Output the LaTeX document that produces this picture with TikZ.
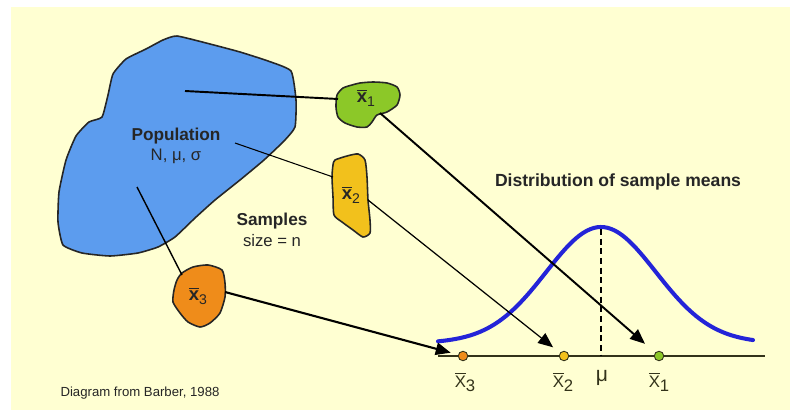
\documentclass[tikz,border=0pt]{standalone}
\usepackage{fontspec}
\setmainfont{Liberation Sans}
\usetikzlibrary{arrows.meta}
\definecolor{paper}{HTML}{FFFFD2}
\definecolor{popblue}{HTML}{5C9CEE}
\definecolor{smpgreen}{HTML}{8CC828}
\definecolor{smpyellow}{HTML}{F2C11C}
\definecolor{smporange}{HTML}{EF8C1A}
\definecolor{curveblue}{HTML}{2424D8}
\definecolor{inkgray}{HTML}{262626}
\definecolor{axisgray}{HTML}{33331A}
\newcommand{\mbar}[2]{\ensuremath{\overline{\mbox{#1}}}\raisebox{-.45ex}{#2}}

\begin{document}
\begin{tikzpicture}[
  x=0.02cm, y=-0.02cm,
  >={Triangle[length=8.5pt,width=7pt]},
  blob/.style={draw=inkgray, line width=0.9pt},
  link/.style={draw=black},
  flow/.style={->, draw=black},
  dot/.style={circle, draw=axisgray, line width=0.5pt, inner sep=0pt, minimum size=5.4pt},
  head/.style={font=\fontsize{9.8}{11}\selectfont\bfseries, text=inkgray},
  note/.style={font=\fontsize{9.5}{11}\selectfont, text=inkgray, inner sep=1pt},
  smplab/.style={font=\fontsize{10.5}{12}\selectfont\bfseries, text=inkgray},
  axlab/.style={font=\fontsize{9.5}{11}\selectfont, text=axisgray}
]
  \useasboundingbox (0,0) rectangle (790,412);
  \fill[white] (0,0) rectangle (790,412);
  \fill[paper] (11,7) rectangle (790,410);

  \draw[blob, fill=popblue] plot[smooth cycle, tension=0.3] coordinates {
    (177,36) (210,44) (240,52) (268,61) (291,71) (296,100) (295,127) (284,141)
    (264,160) (240,180) (215,200) (195,218) (175,237) (158,247) (138,253) (110,256)
    (82,253) (63,245) (58,222) (59,192) (66,160) (76,136) (89,122) (102,117)
    (108,95) (113,74) (126,59) (146,49) (163,40)};
  \draw[blob, fill=smpgreen] plot[smooth cycle, tension=0.4] coordinates {
    (337,95) (343,88) (352,85) (360,83) (373,82) (387,83) (397,87) (400,95)
    (397,105) (387,112) (377,115) (372,122) (367,127) (357,127) (345,123) (338,117) (336,107)};
  \draw[blob, fill=smpyellow] plot[smooth cycle, tension=0.4] coordinates {
    (335,160) (347,156) (358,154) (365,160) (367,177) (368,200) (370,220) (370,233)
    (363,237) (353,230) (342,222) (334,215) (333,197) (332,177) (333,165)};
  \draw[blob, fill=smporange] plot[smooth cycle, tension=0.4] coordinates {
    (182,273) (193,267) (208,265) (222,270) (225,283) (225,297) (220,313) (210,323)
    (200,327) (188,322) (180,313) (173,302) (174,290) (177,280)};

  \node[head] (pop) at (176,136) {Population};
  \node[note] (popparams) at (176,156) {N, μ, σ};
  \node[head] (smp) at (272,221) {Samples};
  \node[note] (smpsize) at (272,241) {size = n};
  \node[head, font=\fontsize{10}{12}\selectfont\bfseries] (dist) at (618,182) {Distribution of sample means};
  \node[font=\fontsize{7.5}{9}\selectfont, text=inkgray] (src) at (140,393) {Diagram from Barber, 1988};

  \node[smplab] (x1lbl) at (366,98) {\mbar{x}{\fontsize{8}{8}\selectfont\mdseries 1}};
  \node[smplab] (x2lbl) at (351,195) {\mbar{x}{\fontsize{8}{8}\selectfont\mdseries 2}};
  \node[smplab] (x3lbl) at (198,296) {\mbar{x}{\fontsize{8}{8}\selectfont\mdseries 3}};

  \coordinate (pop1) at (185,91);
  \coordinate (pop2) at (235,143);
  \coordinate (pop3) at (137,187);
  \coordinate (s1in) at (338,99);
  \coordinate (s2in) at (333,177);
  \coordinate (s3in) at (182,275);
  \coordinate (s1out) at (380,113);
  \coordinate (s2out) at (368,200);
  \coordinate (s3out) at (225,292);
  \draw[link, line width=1.1pt] (pop1) -- (s1in);
  \draw[link, line width=0.6pt] (pop2) -- (s2in);
  \draw[link, line width=0.8pt] (pop3) -- (s3in);

  \draw[curveblue, line width=2.3pt, line cap=round]
    plot[domain=438:753, samples=90] (\x, {345 - 108*exp(-((\x-601)/55)^2/2) - 10/(1+((\x-601)/90)^2)});

  \coordinate (axL) at (438,356);
  \coordinate (axR) at (765,356);
  \coordinate (mutop) at (601,229);
  \coordinate (mubase) at (601,356);
  \draw[axisgray, line width=0.9pt] (axL) -- (axR);
  \draw[black, line width=1.2pt, dash pattern=on 3.5pt off 2pt] (mutop) -- (mubase);

  \node[dot, fill=smporange] (d3) at (463,356) {};
  \node[dot, fill=smpyellow] (d2) at (564,356) {};
  \node[dot, fill=smpgreen] (d1) at (659,356) {};

  \draw[flow, line width=1.1pt, shorten >=7.6pt] (s1out) -- (d1);
  \draw[flow, line width=0.7pt, shorten >=5pt] (s2out) -- (d2);
  \draw[flow, line width=1.2pt, shorten >=4.3pt] (s3out) -- (d3);

  \node[axlab] (l3) at (465,382) {\mbar{X}{3}};
  \node[axlab] (l2) at (563,382) {\mbar{X}{2}};
  \node[axlab, font=\fontsize{12}{13}\selectfont] (lmu) at (602,378) {μ};
  \node[axlab] (l1) at (659,382) {\mbar{X}{1}};
\end{tikzpicture}
\end{document}
